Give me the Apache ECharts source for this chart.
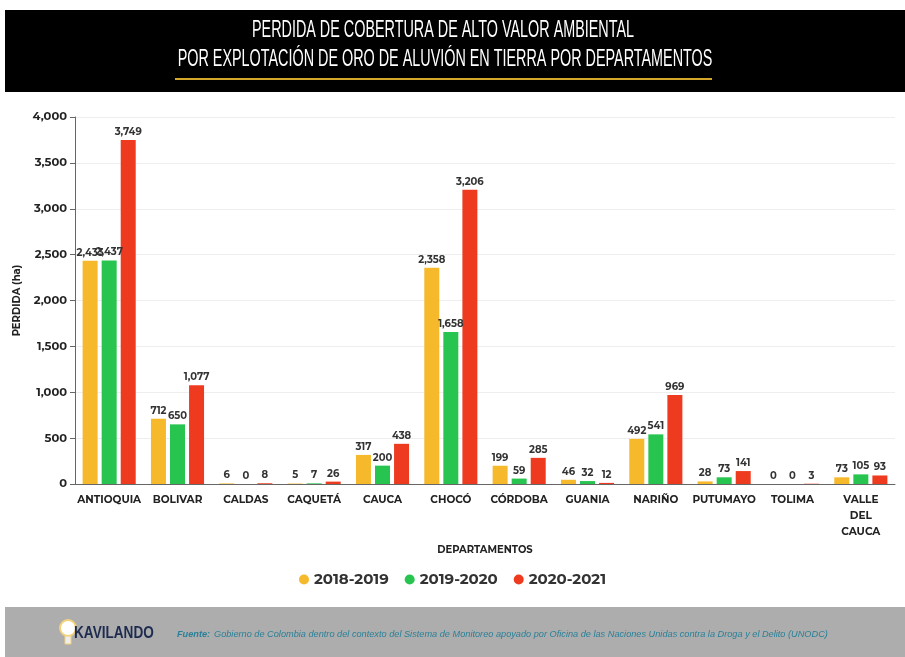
<!DOCTYPE html>
<html><head><meta charset="utf-8">
<script src="https://cdn.jsdelivr.net/npm/echarts@6/dist/echarts.min.js"></script>
<style>html,body{margin:0;padding:0;background:#fff}#c{width:905px;height:657px}</style>
</head><body><div id="c"></div>
<script>
const categories = ['ANTIOQUIA','BOLIVAR','CALDAS','CAQUETÁ','CAUCA','CHOCÓ','CÓRDOBA','GUANIA','NARIÑO','PUTUMAYO','TOLIMA','VALLE\nDEL\nCAUCA'];
const s2018 = [2433,712,6,5,317,2358,199,46,492,28,0,73];
const s2019 = [2437,650,0,7,200,1658,59,32,541,73,0,105];
const s2020 = [3749,1077,8,26,438,3206,285,12,969,141,3,93];
const seriesNames = ['2018-2019','2019-2020','2020-2021'];
const colors = ['#F6B92B','#27C54F','#EE3B1F'];
const yTicks = [0,500,1000,1500,2000,2500,3000,3500,4000];

const chart = echarts.init(document.getElementById('c'));
const F = 'Montserrat, "Noto Sans", "Open Sans", sans-serif';
const TF = '23px "Liberation Sans", sans-serif';
const lbl = {show:true, position:'top', distance:3, fontSize:10, fontWeight:'bold', color:'#333', fontFamily:F,
  formatter: p => p.value.toLocaleString('en-US')};
const mk = (i,d) => ({name:seriesNames[i], type:'bar', data:d, barWidth:15, barGap:'27%', itemStyle:{color:colors[i]}, label:lbl});
chart.setOption({
  animation:false,
  textStyle:{fontFamily:F},
  graphic:[
    {type:'rect', shape:{x:5,y:10,width:900,height:82}, style:{fill:'#000'}},
    {type:'text', x:443, y:31, scaleX:0.625, style:{text:'PERDIDA DE COBERTURA DE ALTO VALOR AMBIENTAL', fill:'#fff', font:TF, textAlign:'center', textVerticalAlign:'middle'}},
    {type:'text', x:445, y:60, scaleX:0.625, style:{text:'POR EXPLOTACIÓN DE ORO DE ALUVIÓN EN TIERRA POR DEPARTAMENTOS', fill:'#fff', font:TF, textAlign:'center', textVerticalAlign:'middle'}},
    {type:'rect', shape:{x:175,y:78,width:537,height:2}, style:{fill:'#D4A62A'}},
    {type:'rect', shape:{x:5,y:607,width:900,height:50}, style:{fill:'#ADADAD'}},
    {type:'circle', shape:{cx:68,cy:628,r:8}, style:{fill:'#fff', stroke:'#F2D27A', lineWidth:2}},
    {type:'rect', shape:{x:65,y:636,width:6,height:8}, style:{fill:'#eee', stroke:'#F2D27A', lineWidth:1}},
    {type:'text', x:74, y:634, scaleX:0.85, style:{text:'KAVILANDO', fill:'#1d2b4f', font:'bold 16px "Liberation Sans", sans-serif', textVerticalAlign:'middle'}},
    {type:'text', x:177, y:634, style:{text:'Fuente:', fill:'#2A8098', font:'italic bold 9.2px "Liberation Sans", sans-serif', textVerticalAlign:'middle'}},
    {type:'text', x:214, y:634, style:{text:'Gobierno de Colombia dentro del contexto del Sistema de Monitoreo apoyado por Oficina de las Naciones Unidas contra la Droga y el Delito (UNODC)', fill:'#2A8098', font:'italic 9.2px "Liberation Sans", sans-serif', textVerticalAlign:'middle'}}
  ],
  legend:{top:567, left:'center', itemWidth:10, itemHeight:10, itemGap:16, icon:'circle',
    textStyle:{fontSize:15, fontWeight:'bold', color:'#333', fontFamily:F}, data:seriesNames},
  grid:{left:75, right:10, top:117, bottom:173},
  xAxis:{type:'category', data:categories, name:'DEPARTAMENTOS', nameLocation:'middle', nameGap:52,
    nameTextStyle:{fontSize:10, fontWeight:'bold', color:'#222'},
    axisLine:{lineStyle:{color:'#666'}}, axisTick:{alignWithLabel:true, length:5, lineStyle:{color:'#666'}},
    axisLabel:{fontSize:10.5, fontWeight:'bold', color:'#222', interval:0, lineHeight:16, margin:8}},
  yAxis:{type:'value', min:0, max:4000, interval:500, name:'PERDIDA (ha)', nameLocation:'middle', nameGap:48, nameRotate:90,
    nameTextStyle:{fontSize:10, fontWeight:'bold', color:'#222'},
    axisLine:{show:true, lineStyle:{color:'#666'}}, axisTick:{show:true, length:5, lineStyle:{color:'#666'}},
    splitLine:{lineStyle:{color:'#eee'}},
    axisLabel:{fontSize:11.5, fontWeight:'bold', color:'#222', margin:8, formatter: v => yTicks.includes(v) ? v.toLocaleString('en-US') : ''}},
  series:[mk(0,s2018), mk(1,s2019), mk(2,s2020)]
});
</script></body></html>
